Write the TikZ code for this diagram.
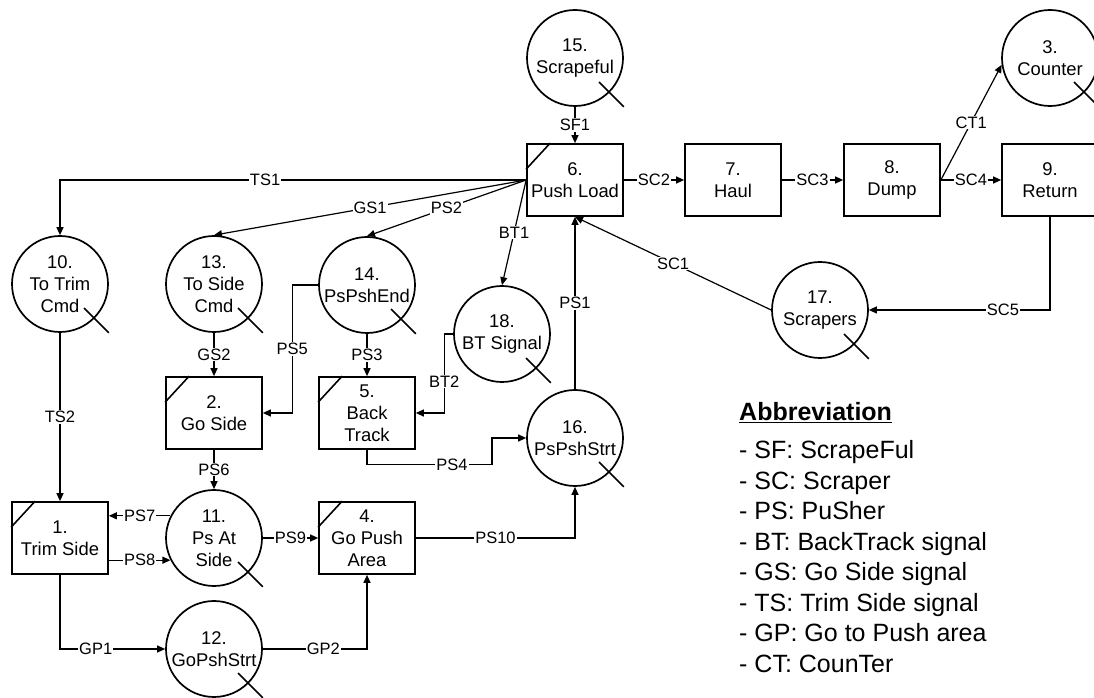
\documentclass[tikz,border=0pt]{standalone}
\usepackage{fontspec}
\setmainfont{Liberation Sans}
\usetikzlibrary{arrows.meta,positioning,calc}

% marks on the shapes
\newcommand{\tailmark}[1]{\draw[line width=1.7pt] (#1.center) ++(-45:34) -- ++(-45:35);}
\newcommand{\cornermark}[1]{\draw[line width=1.6pt] ([yshift=-26pt]#1.north west) -- ([xshift=24pt]#1.north west);}

\begin{document}
\begin{tikzpicture}[x=1pt,y=1pt,
    every node/.style={font=\fontsize{18.4}{22}\selectfont},
    proc/.style={draw,line width=1.7pt,minimum width=96pt,minimum height=72pt,inner sep=0pt,align=center},
    place/.style={draw,circle,line width=1.7pt,minimum size=96pt,inner sep=0pt,align=center},
    sig/.style={line width=1.2pt,-{Triangle[length=8pt,width=7pt]}},
    lbl/.style={fill=white,inner sep=1pt,font=\fontsize{16.5}{18}\selectfont},
    legend/.style={inner sep=0pt,font=\fontsize{25}{30}\selectfont}]
  \useasboundingbox (0,0) rectangle (1094,698);

  % upper row
  \node[proc] (n6) at (575,518) {6.\\Push Load};
  \node[proc] (n7) at (733,518) {7.\\Haul};
  \node[proc] (n8) at (892,518) {8.\\Dump};
  \node[proc] (n9) at (1050,518) {9.\\Return};
  \node[place] (n3) at (1050,640) {3.\\Counter};
  \node[place] (n15) at (575,640) {15.\\Scrapeful};
  \node[place] (n17) at (820,388) {17.\\Scrapers};

  % middle
  \node[place] (n10) at (60,414) {10.\\To Trim\\Cmd};
  \node[place] (n13) at (214,414) {13.\\To Side\\Cmd};
  \node[place] (n14) at (367,413) {14.\\PsPshEnd};
  \node[place] (n18) at (502,364) {18.\\BT Signal};
  \node[place] (n16) at (575,260) {16.\\PsPshStrt};
  \node[proc] (n2) at (214,285) {2.\\Go Side};
  \node[proc] (n5) at (367,285) {5.\\Back\\Track};

  % lower
  \node[proc] (n1) at (60,160) {1.\\Trim Side};
  \node[place] (n11) at (214,160) {11.\\Ps At\\Side};
  \node[proc] (n4) at (367,160) {4.\\Go Push\\Area};
  \node[place] (n12) at (214,49) {12.\\GoPshStrt};

  \cornermark{n1} \cornermark{n2} \cornermark{n4} \cornermark{n5} \cornermark{n6}
  \tailmark{n3} \tailmark{n10} \tailmark{n11} \tailmark{n12} \tailmark{n13}
  \tailmark{n14} \tailmark{n15} \tailmark{n16} \tailmark{n17} \tailmark{n18}

  % signals
  \draw[sig] (n15) -- node[lbl]{SF1} (n6);
  \draw[sig] (n6) -- node[lbl]{SC2} (n7);
  \draw[sig] (n7) -- node[lbl]{SC3} (n8);
  \draw[sig] (n8) -- node[lbl]{SC4} (n9);
  \draw[sig] (n8.east) -- node[lbl]{CT1} (n3.188);
  \draw[sig] (n9.south) |- node[lbl,pos=0.63]{SC5} (n17.east);
  \draw[sig] (n17.west) -- node[lbl]{SC1} (n6.south);
  \draw[sig] (n16) -- node[lbl]{PS1} (n6);
  \draw[sig] (n6.west) -| node[lbl,pos=0.28]{TS1} (n10.north);
  \draw[sig] (n6.west) -- node[lbl]{GS1} (n13.north);
  \draw[sig] (n6.west) -- node[lbl]{PS2} (n14.north);
  \draw[sig] (n6.west) -- node[lbl]{BT1} (n18.north);
  \draw[sig] (n13) -- node[lbl]{GS2} (n2);
  \draw[sig] (n14) -- node[lbl]{PS3} (n5);
  \draw[sig] (n14.west) -- ++(-26,0) |- node[lbl,pos=0.25]{PS5} (n2.east);
  \draw[sig] (n18.west) -- ++(-9,0) |- node[lbl,pos=0.3]{BT2} (n5.east);
  \draw[sig] (n5.south) -- ++(0,-15) -- node[lbl,pos=0.68]{PS4} ++(125,0) |- (n16.west);
  \draw[sig] (n2) -- node[lbl]{PS6} (n11);
  \draw[sig] (n11.153) -- node[lbl]{PS7} (n11.153 -| n1.east);
  \draw[sig] (n11.207 -| n1.east) -- node[lbl]{PS8} (n11.207);
  \draw[sig] (n11) -- node[lbl]{PS9} (n4);
  \draw[sig] (n4.east) -| node[lbl,pos=0.25]{PS10} (n16.south);
  \draw[sig] (n10) -- node[lbl]{TS2} (n1);
  \draw[sig] (n1.south) |- node[lbl,pos=0.67]{GP1} (n12.west);
  \draw[sig] (n12.east) -| node[lbl,pos=0.29]{GP2} (n4.south);

  % abbreviations
  \node[legend,anchor=base west] (abbr) at (739,277) {\underline{\textbf{Abbreviation}}};
  \foreach \txt [count=\i] in {SF: ScrapeFul, SC: Scraper, PS: PuSher, BT: BackTrack signal,
      GS: Go Side signal, TS: Trim Side signal, GP: Go to Push area, CT: CounTer}
    \node[legend,anchor=base west] (abbr\i) at (739,269.5-30.5*\i) {- \txt};
\end{tikzpicture}
\end{document}
